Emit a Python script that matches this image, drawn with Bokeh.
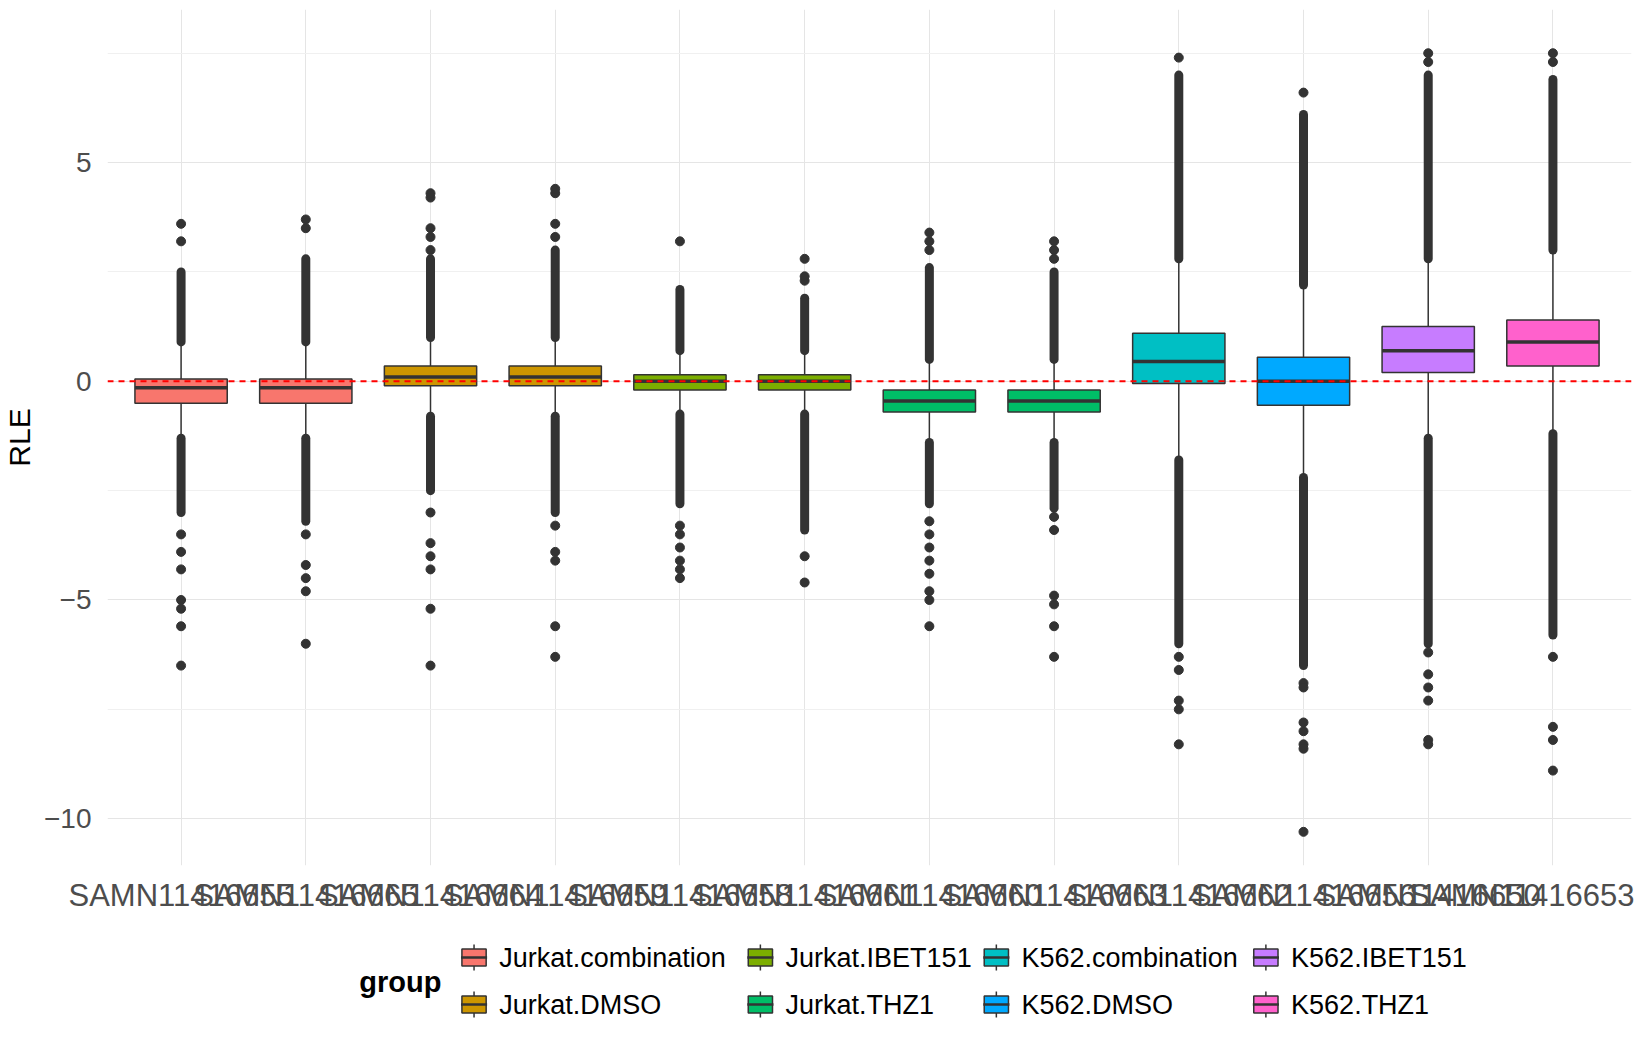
from bokeh.plotting import figure
from bokeh.layouts import column
from bokeh.models import FixedTicker, Span
from bokeh.core.properties import value
from bokeh.embed import file_html
from bokeh.resources import INLINE

samples = ["SAMN11416655", "SAMN11416665", "SAMN11416664", "SAMN11416659", "SAMN11416658", "SAMN11416661",
           "SAMN11416660", "SAMN11416663", "SAMN11416662", "SAMN11416656", "SAMN11416650", "SAMN11416653"]
groups = ["Jurkat.combination", "Jurkat.combination", "Jurkat.DMSO", "Jurkat.DMSO", "Jurkat.IBET151", "Jurkat.IBET151",
          "Jurkat.THZ1", "Jurkat.THZ1", "K562.combination", "K562.DMSO", "K562.IBET151", "K562.THZ1"]
group_names = ["Jurkat.combination", "Jurkat.DMSO", "Jurkat.IBET151", "Jurkat.THZ1",
               "K562.combination", "K562.DMSO", "K562.IBET151", "K562.THZ1"]
group_colors = ["#F8766D", "#CD9600", "#7CAE00", "#00BE67", "#00BFC4", "#00A9FF", "#C77CFF", "#FF61CC"]

q1 = [-0.5, -0.5, -0.1, -0.1, -0.2, -0.2, -0.7, -0.7, -0.05, -0.55, 0.2, 0.35]
med = [-0.15, -0.15, 0.1, 0.1, 0.0, 0.0, -0.45, -0.45, 0.45, 0.0, 0.7, 0.9]
q3 = [0.05, 0.05, 0.35, 0.35, 0.15, 0.15, -0.2, -0.2, 1.1, 0.55, 1.25, 1.4]
whisk_hi = [0.9, 0.9, 1.0, 1.0, 0.7, 0.7, 0.5, 0.5, 2.8, 2.2, 2.8, 3.0]
whisk_lo = [-1.3, -1.3, -0.8, -0.8, -0.75, -0.75, -1.4, -1.4, -1.8, -2.2, -1.3, -1.2]
# dense outlier bands (continuous runs of points)
band_hi_top = [2.5, 2.8, 2.8, 3.0, 2.1, 1.9, 2.6, 2.5, 7.0, 6.1, 7.0, 6.9]
band_lo_bot = [-3.0, -3.2, -2.5, -3.0, -2.8, -3.4, -2.8, -2.9, -6.0, -6.5, -6.0, -5.8]
# isolated outliers
iso = [
    [3.2, 3.6, -3.5, -3.9, -4.3, -5.0, -5.2, -5.6, -6.5],
    [3.5, 3.7, -3.5, -4.2, -4.5, -4.8, -6.0],
    [3.0, 3.3, 3.5, 4.2, 4.3, -3.0, -3.7, -4.0, -4.3, -5.2, -6.5],
    [3.3, 3.6, 4.3, 4.4, -3.3, -3.9, -4.1, -5.6, -6.3],
    [3.2, -3.3, -3.5, -3.8, -4.1, -4.3, -4.5],
    [2.3, 2.4, 2.8, -4.0, -4.6],
    [3.0, 3.2, 3.4, -3.2, -3.5, -3.8, -4.1, -4.4, -4.8, -5.0, -5.6],
    [2.8, 3.0, 3.2, -3.1, -3.4, -4.9, -5.1, -5.6, -6.3],
    [7.4, -6.3, -6.6, -7.3, -7.5, -8.3],
    [6.6, -6.9, -7.0, -7.8, -8.0, -8.3, -8.4, -10.3],
    [7.3, 7.5, -6.2, -6.7, -7.0, -7.3, -8.2, -8.3],
    [7.3, 7.5, -6.3, -7.9, -8.2, -8.9],
]
y_ticks = [-10, -5, 0, 5]

FONT = "Liberation Sans"
DARK = "#333333"
xs = list(range(1, len(samples) + 1))
cols = [group_colors[group_names.index(g)] for g in groups]

p = figure(width=1634, height=915, x_range=(0.41, 12.63), y_range=(-11.07, 8.5),
           output_backend="svg", toolbar_location=None,
           min_border_left=97, min_border_right=3, min_border_top=9, min_border_bottom=48)
p.outline_line_color = None
p.background_fill_color = "white"
p.xaxis.ticker = FixedTicker(ticks=xs)
p.xaxis.major_label_overrides = {x: s for x, s in zip(xs, samples)}
p.yaxis.ticker = FixedTicker(ticks=y_ticks, minor_ticks=[-7.5, -2.5, 2.5, 7.5])
for ax in (p.xaxis, p.yaxis):
    ax.axis_line_color = None
    ax.major_tick_line_color = None
    ax.minor_tick_line_color = None
    ax.major_label_text_font = FONT
    ax.major_label_text_color = "#4D4D4D"
p.xaxis.major_label_text_font_size = "31px"
p.yaxis.major_label_text_font_size = "28px"
p.yaxis.axis_label = "RLE"
p.yaxis.axis_label_text_font = FONT
p.yaxis.axis_label_text_font_style = "normal"
p.yaxis.axis_label_text_font_size = "30px"
p.yaxis.axis_label_text_color = "black"
p.xaxis.major_label_standoff = 6
p.yaxis.major_label_standoff = 10
p.xgrid.grid_line_color = "#E5E5E5"
p.ygrid.grid_line_color = "#E5E5E5"
p.ygrid.minor_grid_line_color = "#F0F0F0"

# whiskers
p.segment(xs, q3, xs, whisk_hi, line_color=DARK, line_width=1.5)
p.segment(xs, q1, xs, whisk_lo, line_color=DARK, line_width=1.5)
# dense outlier bands
p.segment(xs, whisk_hi, xs, band_hi_top, line_color=DARK, line_width=9, line_cap="round")
p.segment(xs, whisk_lo, xs, band_lo_bot, line_color=DARK, line_width=9, line_cap="round")
ox, oy = [], []
for x, vals in zip(xs, iso):
    ox += [x] * len(vals)
    oy += vals
p.scatter(ox, oy, size=9, fill_color=DARK, line_color=DARK)
# boxes
p.vbar(x=xs, bottom=q1, top=q3, width=0.74, fill_color=cols, line_color=DARK, line_width=1.5)
p.segment([x - 0.37 for x in xs], med, [x + 0.37 for x in xs], med, line_color=DARK, line_width=3.5)
p.add_layout(Span(location=0, dimension="width", line_color="red", line_dash="6 5", line_width=2))

# legend
lg = figure(width=1634, height=120, x_range=(0, 1634), y_range=(120, 0),
            output_backend="svg", toolbar_location=None, min_border=0,
            x_axis_location=None, y_axis_location=None)
lg.outline_line_color = None
lg.grid.visible = False
col_x = [379, 686, 939, 1228]
row_y = [42, 89]
lx, ly, lc, lt = [], [], [], []
for i, (g, c) in enumerate(zip(group_names, group_colors)):
    lx.append(col_x[i // 2]); ly.append(row_y[i % 2]); lc.append(c); lt.append(g)
lg.segment([x + 14 for x in lx], [y - 13 for y in ly], [x + 14 for x in lx], [y + 13 for y in ly],
           line_color=DARK, line_width=1.5)
lg.rect(x=[x + 14 for x in lx], y=ly, width=26, height=17, fill_color=lc, line_color=DARK, line_width=1.5)
lg.segment(lx, ly, [x + 28 for x in lx], ly, line_color=DARK, line_width=2.5)
lg.text(x=[x + 41 for x in lx], y=ly, text=lt, text_font=value(FONT), text_font_size="27px",
        text_baseline="middle", text_color="black")
lg.text(x=[270], y=[66], text=["group"], text_font=value(FONT), text_font_size="29px",
        text_font_style="bold", text_baseline="middle", text_color="black")

open("out.html", "w").write(file_html(column(p, lg, spacing=0), INLINE))
